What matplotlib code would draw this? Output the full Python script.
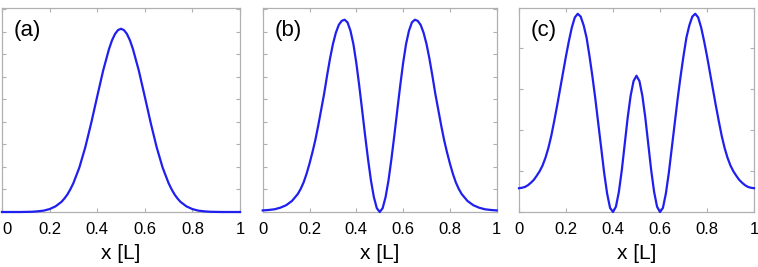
import matplotlib

matplotlib.use("Agg")
import matplotlib.pyplot as plt

# probability densities (arbitrary units, 1 unit = 1 y-tick)
X_A = [0, 0.025, 0.05, 0.075, 0.1, 0.125, 0.15, 0.175, 0.2, 0.225, 0.25, 0.2625, 0.275,
       0.2875, 0.3, 0.325, 0.35, 0.375, 0.4, 0.425, 0.45, 0.4625, 0.475, 0.4875, 0.5,
       0.5125, 0.525, 0.5375, 0.55, 0.575, 0.6, 0.625, 0.65, 0.675, 0.7, 0.7125, 0.725,
       0.7375, 0.75, 0.775, 0.8, 0.825, 0.85, 0.875, 0.9, 0.925, 0.95, 0.975, 1]
Y_A = [0, 0, 0, 0, 0.005, 0.01, 0.03, 0.06, 0.13, 0.25, 0.45, 0.60, 0.78,
       1.01, 1.28, 1.97, 2.87, 3.95, 5.12, 6.27, 7.24, 7.62, 7.90, 8.07, 8.13,
       8.07, 7.90, 7.62, 7.24, 6.27, 5.12, 3.95, 2.87, 1.97, 1.28, 1.01, 0.78,
       0.60, 0.45, 0.25, 0.13, 0.06, 0.03, 0.01, 0.005, 0, 0, 0, 0]

X_B = [0, 0.025, 0.05, 0.075, 0.1, 0.125, 0.15, 0.1625, 0.175, 0.1875, 0.2, 0.2125,
       0.225, 0.2375, 0.25, 0.2625, 0.275, 0.2875, 0.3, 0.3125, 0.325, 0.3375, 0.35,
       0.3625, 0.375, 0.3875, 0.4, 0.4125, 0.425, 0.4375, 0.45, 0.4625, 0.475, 0.4875,
       0.5, 0.5125, 0.525, 0.5375, 0.55, 0.5625, 0.575, 0.5875, 0.6, 0.6125, 0.625,
       0.6375, 0.65, 0.6625, 0.675, 0.6875, 0.7, 0.7125, 0.725, 0.7375, 0.75, 0.7625,
       0.775, 0.7875, 0.8, 0.8125, 0.825, 0.8375, 0.85, 0.875, 0.9, 0.925, 0.95, 0.975, 1]
Y_B = [0.07, 0.09, 0.12, 0.19, 0.30, 0.49, 0.80, 1.03, 1.32, 1.70, 2.15, 2.65,
       3.20, 3.85, 4.55, 5.25, 6.05, 6.80, 7.45, 7.95, 8.30, 8.48, 8.53,
       8.41, 8.04, 7.45, 6.61, 5.60, 4.51, 3.40, 2.35, 1.40, 0.66, 0.17,
       0, 0.17, 0.66, 1.40, 2.35, 3.40, 4.51, 5.60, 6.61, 7.45, 8.04,
       8.41, 8.53, 8.48, 8.30, 7.95, 7.45, 6.80, 6.05, 5.25, 4.55, 3.85,
       3.20, 2.65, 2.15, 1.70, 1.32, 1.03, 0.80, 0.49, 0.30, 0.19, 0.12, 0.09, 0.07]

X_C = [0, 0.0125, 0.025, 0.0375, 0.05, 0.0625, 0.075, 0.0875, 0.1, 0.1125, 0.125, 0.1375,
       0.15, 0.1625, 0.175, 0.1875, 0.2, 0.2125, 0.225, 0.2375, 0.25, 0.2625, 0.275, 0.2875,
       0.3, 0.3125, 0.325, 0.3375, 0.35, 0.3625, 0.375, 0.3875, 0.4, 0.4125, 0.425, 0.4375,
       0.45, 0.4625, 0.475, 0.4875, 0.5, 0.5125, 0.525, 0.5375, 0.55, 0.5625, 0.575, 0.5875,
       0.6, 0.6125, 0.625, 0.6375, 0.65, 0.6625, 0.675, 0.6875, 0.7, 0.7125, 0.725, 0.7375,
       0.75, 0.7625, 0.775, 0.7875, 0.8, 0.8125, 0.825, 0.8375, 0.85, 0.8625, 0.875, 0.8875,
       0.9, 0.9125, 0.925, 0.9375, 0.95, 0.9625, 0.975, 0.9875, 1]
Y_C = [0.58, 0.59, 0.61, 0.65, 0.71, 0.78, 0.88, 0.99, 1.13, 1.32, 1.56, 1.86,
       2.22, 2.60, 3.00, 3.40, 3.80, 4.17, 4.50, 4.74, 4.83, 4.76, 4.55, 4.25,
       3.80, 3.30, 2.75, 2.15, 1.55, 0.95, 0.45, 0.10, 0, 0.13, 0.49, 1.02,
       1.66, 2.30, 2.83, 3.19, 3.32, 3.19, 2.83, 2.30, 1.66, 1.02, 0.49, 0.13,
       0, 0.10, 0.45, 0.95, 1.55, 2.15, 2.75, 3.30, 3.80, 4.25, 4.55, 4.76,
       4.83, 4.74, 4.50, 4.17, 3.80, 3.40, 3.00, 2.60, 2.22, 1.86, 1.56, 1.32,
       1.13, 0.99, 0.88, 0.78, 0.71, 0.65, 0.61, 0.59, 0.58]

PANELS = [
    ("(a)", X_A, Y_A, 9.05, [0.0026, 0.206, 0.314, 0.764]),
    ("(b)", X_B, Y_B, 9.05, [0.3466, 0.206, 0.3087, 0.764]),
    ("(c)", X_C, Y_C, 4.97, [0.6847, 0.206, 0.310, 0.764]),
]
XTICKS = [0, 0.2, 0.4, 0.6, 0.8, 1]
XTICKLABELS = ["0", "0.2", "0.4", "0.6", "0.8", "1"]

plt.rcParams["font.family"] = ["Liberation Sans", "DejaVu Sans"]

fig = plt.figure(figsize=(7.58, 2.67), dpi=100)
for i, (tag, xs, ys, ytop, rect) in enumerate(PANELS):
    ax = fig.add_axes(rect)
    ax.plot(xs, ys, color="#2020ee", lw=1.6, clip_on=False, zorder=3)
    ax.set_xlim(0, 1)
    ax.set_ylim(0, ytop)
    ax.set_xticks(XTICKS)
    ax.set_xticklabels(XTICKLABELS)
    ax.set_yticks(range(0, int(ytop) + 1))
    ax.set_yticklabels([])
    ax.tick_params(direction="in", length=3, width=0.8, color="#b0b0b0",
                   top=True, right=True, labelsize=12, pad=7)
    if i == 0:
        # first "0" sits at the figure edge; keep it inside
        ax.get_xticklabels()[0].set_horizontalalignment("left")
    for sp in ax.spines.values():
        sp.set_color("#b0b0b0")
        sp.set_linewidth(0.9)
    ax.set_xlabel("x [L]", fontsize=15, labelpad=5)
    ax.text(0.05, 0.89, tag, transform=ax.transAxes, fontsize=16, va="center", ha="left")

fig.savefig("out.png", dpi=100)
